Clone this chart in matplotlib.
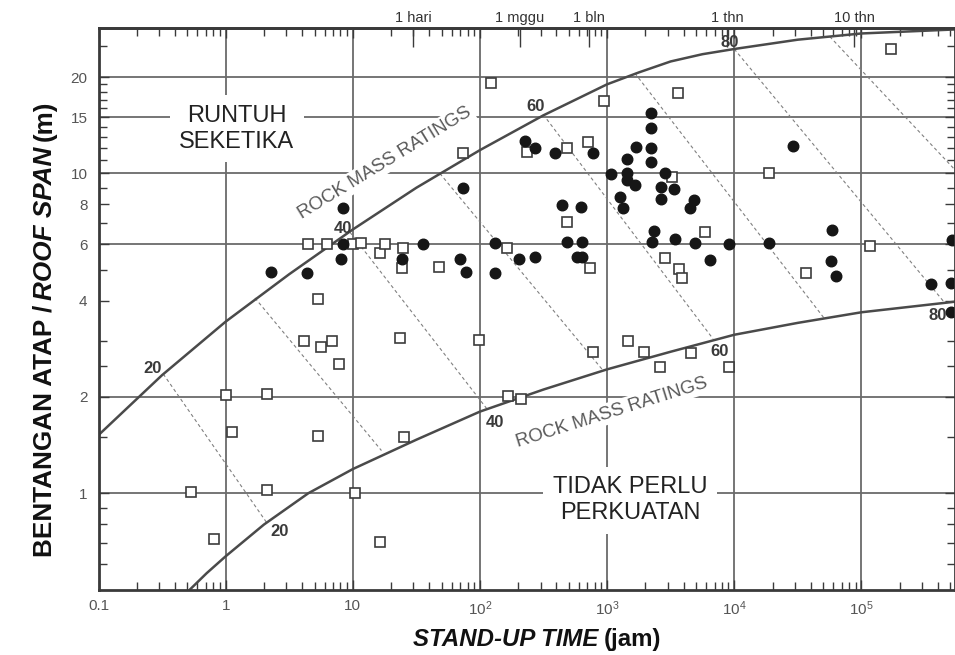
import matplotlib
matplotlib.use("Agg")
import matplotlib.pyplot as plt
from matplotlib.ticker import FixedLocator, NullLocator, NullFormatter

plt.rcParams['font.family'] = ['Liberation Sans', 'DejaVu Sans']
plt.rcParams['mathtext.fontset'] = 'custom'
plt.rcParams['mathtext.rm'] = 'Liberation Sans'
plt.rcParams['mathtext.it'] = 'Liberation Sans:italic'
plt.rcParams['mathtext.bf'] = 'Liberation Sans:bold'

# ---------------- data ----------------
# filled circles (stand-up time [h], roof span [m])
filled_x = [2.26, 4.36, 8.05, 8.4, 8.4, 24.5, 35.4, 69.5, 77.5, 73.8, 131, 131, 203, 272,
            228, 270, 386, 777, 438, 618, 485, 630, 575, 630, 1083, 1260, 1336, 1446, 1446,
            1422, 1672, 1702, 2206, 2206, 2206, 2206, 2843, 2643, 2643, 2342, 2237, 3365,
            4467, 4832, 3405, 4900, 9100, 6500, 18800, 29000, 59000, 58000, 62800, 355000,
            510000, 519000, 505000]
filled_y = [4.93, 4.87, 5.39, 6.0, 7.8, 5.42, 6.0, 5.42, 4.93, 9.0, 6.07, 4.87, 5.40, 5.46,
            12.6, 12.05, 11.6, 11.6, 7.94, 7.83, 6.09, 6.09, 5.49, 5.49, 9.95, 8.45, 7.77, 11.06,
            10.04, 9.53, 9.19, 12.1, 15.5, 13.9, 12.05, 10.87, 10.0, 9.04, 8.3, 6.6, 6.09, 8.91,
            7.77, 8.25, 6.26, 6.04, 6.0, 5.36, 6.04, 12.2, 6.65, 5.32, 4.79, 4.51,
            4.53, 6.19, 3.68]

# open squares
open_x = [4.47, 6.3, 10.1, 11.5, 16.3, 17.9, 24.9, 24.2, 47.8, 73.8, 123, 162, 235, 480,
          706, 948, 480, 740, 3250, 3580, 5860, 2843, 3680, 3915, 18800, 37000, 116000,
          172000, 5.35, 4.15, 5.61, 6.81, 7.82, 1.0, 2.1, 1.13, 5.29, 0.533, 2.1, 10.4,
          0.813, 16.3, 23.5, 25.4, 98, 165, 212, 777, 1463, 1954, 2594, 4550, 9060]
open_y = [6.0, 6.0, 6.0, 6.07, 5.62, 6.0, 5.83, 5.07, 5.1, 11.6, 19.2, 5.83, 11.7, 12.05,
          12.5, 16.9, 7.04, 5.05, 9.76, 17.9, 6.57, 5.45, 5.01, 4.7, 10.0, 4.87, 5.93,
          24.5, 4.05, 2.99, 2.87, 3.0, 2.54, 2.03, 2.04, 1.55, 1.51, 1.01, 1.02, 1.0,
          0.72, 0.706, 3.05, 1.50, 3.01, 2.01, 1.97, 2.76, 3.0, 2.77, 2.49, 2.74, 2.49]

# boundary curves
upper_x = [0.1, 0.316, 1.0, 3.16, 10, 31.6, 100, 316, 1000, 1778, 3162, 5623, 10000,
           31623, 100000, 540000]
upper_y = [1.52, 2.34, 3.44, 4.84, 6.68, 9.02, 11.83, 15.2, 19.0, 20.7, 22.4, 23.6,
           24.5, 26.2, 27.4, 28.2]
lower_x = [0.524, 0.708, 1.0, 2.0, 4.47, 10, 31.6, 100, 316, 1000, 3162, 10000,
           31623, 100000, 540000]
lower_y = [0.5, 0.562, 0.635, 0.798, 1.0, 1.19, 1.47, 1.80, 2.11, 2.44, 2.77, 3.13,
           3.41, 3.68, 3.97]

# RMR iso-lines (dashed)
rmr_values = [20, 30, 40, 50, 60, 70, 80, 90]
rmr_upper_x = [0.323, 1.7, 9.5, 48.4, 314, 1652, 10000, 56400]
rmr_upper_y = [2.36, 4.08, 6.55, 10.0, 15.3, 20.6, 24.5, 26.8]
rmr_lower_x = [2.1, 16.8, 113, 930, 6810, 51700, 450000, 540000]
rmr_lower_y = [0.81, 1.36, 1.84, 2.42, 3.04, 3.50, 3.95, 10.3]

# curve labels
curve_labels = ['20', '40', '60', '80']
upper_label_x = [0.268, 8.35, 275, 9230]
upper_label_y = [2.46, 6.74, 16.2, 25.7]
lower_label_x = [2.67, 131, 7690, 398000]
lower_label_y = [0.758, 1.67, 2.77, 3.6]

# ticks
x_ticks = [0.1, 1, 10, 100, 1e3, 1e4, 1e5]
x_ticklabels = ['0.1', '1', '10', '$10^{2}$', '$10^{3}$', '$10^{4}$', '$10^{5}$']
y_ticks = [1, 2, 4, 6, 8, 10, 15, 20]
y_ticklabels = ['1', '2', '4', '6', '8', '10', '15', '20']
y_minor = [0.6, 0.7, 0.8, 0.9, 1.5, 2.5, 3, 5, 7, 9, 11, 12, 13, 14, 16, 17, 18, 19, 25]
grid_x = [1, 10, 100, 1e3, 1e4, 1e5]
grid_y = [1, 2, 6, 10, 15, 20]
time_ticks = [30, 205, 720, 8760, 87600]
time_labels = ['1 hari', '1 mggu', '1 bln', '1 thn', '10 thn']

# ---------------- figure ----------------
W, H = 955, 655
fig = plt.figure(figsize=(W / 100, H / 100), dpi=100)
L, R, T, B = 98.5, 954.5, 28, 589.5
ax = fig.add_axes([L / W, 1 - B / H, (R - L) / W, (B - T) / H])
ax.set_xscale('log')
ax.set_yscale('log')
ax.set_xlim(0.1, 5.4e5)
ax.set_ylim(0.5, 28.5)

dark = '#3a3a3a'
gridc = '#6a6a6a'

for gx in grid_x:
    ax.axvline(gx, color=gridc, lw=1.3, zorder=1)
for gy in grid_y:
    ax.axhline(gy, color=gridc, lw=1.3, zorder=1)

# dashed RMR lines
for ux, uy, lx, ly in zip(rmr_upper_x, rmr_upper_y, rmr_lower_x, rmr_lower_y):
    ax.plot([ux, lx], [uy, ly], color='#808080', lw=0.8, ls=(0, (3, 2.5)), zorder=2)

# curves
ax.plot(upper_x, upper_y, color='#4a4a4a', lw=1.8, zorder=4)
ax.plot(lower_x, lower_y, color='#4a4a4a', lw=1.8, zorder=4)

# points
ax.plot(open_x, open_y, 's', ms=7.8, mfc='white', mec='#3c3c3c', mew=1.2, zorder=5)
ax.plot(filled_x, filled_y, 'o', ms=7.6, mfc='#161616', mec='#161616', zorder=6)

# labels on curves
for t, x, y in zip(curve_labels, upper_label_x, upper_label_y):
    ax.text(x, y, t, fontsize=12, fontweight='bold', color='#3a3a3a', ha='center', va='center', zorder=7)
for t, x, y in zip(curve_labels, lower_label_x, lower_label_y):
    ax.text(x, y, t, fontsize=12, fontweight='bold', color='#3a3a3a', ha='center', va='center', zorder=7)

# ROCK MASS RATINGS texts
bb = dict(boxstyle='square,pad=0.12', fc='white', ec='none')
ax.text(17.9, 10.8, 'ROCK MASS RATINGS', fontsize=13.5, color='#5a5a5a', rotation=31.5,
        ha='center', va='center', rotation_mode='anchor', bbox=bb, zorder=3)
ax.text(1090, 1.79, 'ROCK MASS RATINGS', fontsize=13.5, color='#5a5a5a', rotation=17.5,
        ha='center', va='center', rotation_mode='anchor', bbox=bb, zorder=3)

# region labels
bb2 = dict(boxstyle='square,pad=0.4', fc='white', ec='none')
ax.text(1.22, 13.8, 'RUNTUH\nSEKETIKA', fontsize=17, color='#222222', ha='center',
        va='center', linespacing=1.22, bbox=bb2, zorder=3)
ax.text(1514, 0.95, 'TIDAK PERLU\nPERKUATAN', fontsize=17, color='#222222', ha='center',
        va='center', linespacing=1.22, bbox=bb2, zorder=3)

# ticks
ax.xaxis.set_major_locator(FixedLocator(x_ticks))
ax.set_xticklabels(x_ticklabels)
ax.yaxis.set_major_locator(FixedLocator(y_ticks))
ax.set_yticklabels(y_ticklabels)
ax.yaxis.set_minor_locator(FixedLocator(y_minor))
ax.yaxis.set_minor_formatter(NullFormatter())
ax.xaxis.set_minor_formatter(NullFormatter())
ax.tick_params(which='both', direction='in', top=True, right=True, color=dark, width=1.0)
ax.tick_params(which='major', length=7, labelsize=11, labelcolor='#555555')
ax.tick_params(which='minor', length=6)
ax.tick_params(axis='x', which='major', pad=7)
ax.tick_params(axis='y', which='major', pad=8)

for s in ax.spines.values():
    s.set_color(dark)
    s.set_linewidth(2.0)
    s.set_zorder(8)

sec = ax.secondary_xaxis('top')
sec.set_xticks(time_ticks)
sec.set_xticklabels(time_labels)
sec.xaxis.set_minor_locator(NullLocator())
sec.tick_params(direction='in', length=14, width=1.0, color=dark, labelsize=10.5,
                labelcolor='#333333', pad=2)
sec.spines['top'].set_color(dark)
sec.spines['top'].set_linewidth(2.0)

# ---------------- composite axis labels ----------------
renderer = fig.canvas.get_renderer()


def build(parts, size, rotation):
    objs = []
    for txt, style in parts:
        o = fig.text(0, 0, txt, fontsize=size, fontweight='bold', fontstyle=style,
                     color='#111111', rotation=rotation)
        objs.append(o)
    return objs


gap = 5
xparts = [('STAND-UP TIME', 'italic'), ('(jam)', 'normal')]
xo = build(xparts, 17.3, 0)
widths = [o.get_window_extent(renderer).width for o in xo]
total = sum(widths) + gap * (len(widths) - 1)
cx, cy = 537, H - 637
start = cx - total / 2
for o, w in zip(xo, widths):
    o.set_position((start / W, cy / H))
    o.set_ha('left')
    o.set_va('center_baseline')
    start += w + gap

yparts = [('BENTANGAN ATAP /', 'normal'), ('ROOF SPAN', 'italic'), ('(m)', 'normal')]
yo = build(yparts, 18.8, 90)
heights = [o.get_window_extent(renderer).height for o in yo]
total = sum(heights) + gap * (len(heights) - 1)
cx, cy = 45, H - 329
start = cy - total / 2
for o, h in zip(yo, heights):
    o.set_position((cx / W, start / H))
    o.set_ha('center')
    o.set_va('bottom')
    start += h + gap

fig.savefig('out.png', dpi=100, facecolor='white')
